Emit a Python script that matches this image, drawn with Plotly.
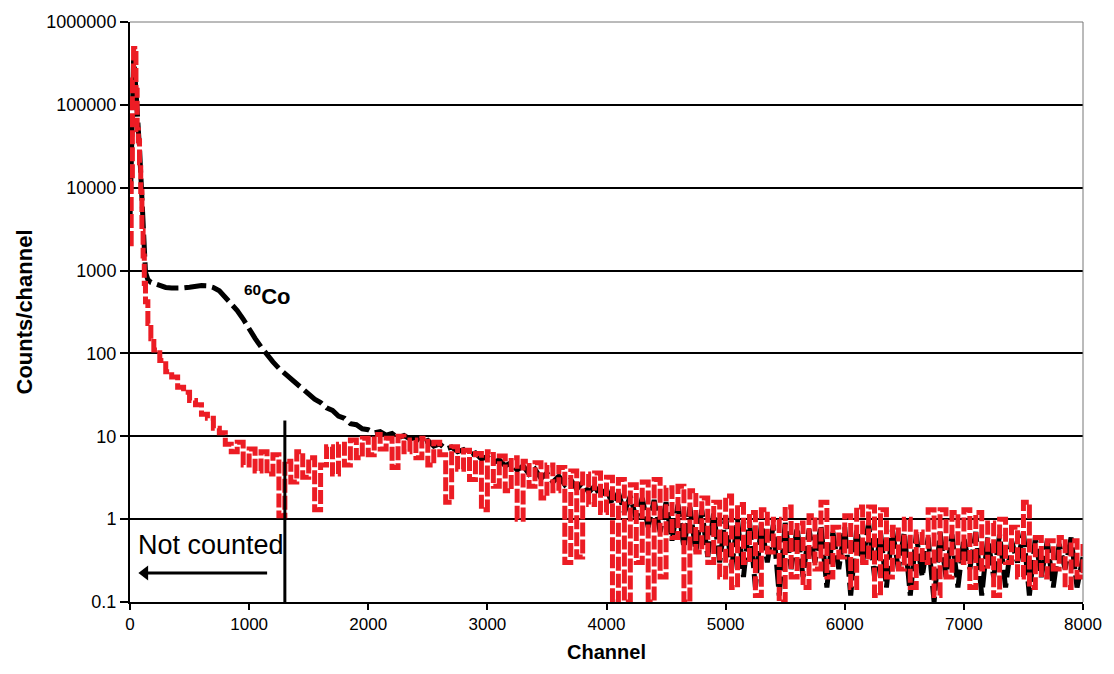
import plotly.graph_objects as go

# ---- data (channel vs counts/channel) ----
low_channels = [0, 10, 20, 30, 40, 50, 60, 70, 80, 90, 100, 110, 120, 130, 150, 175]
co60_low = [4000, 20000, 150000, 350000, 250000, 110000, 90000, 50000, 30000, 15000,
            5500, 2200, 1200, 950, 780, 720]
bg_low = [2100, 12000, 200000, 480000, 450000, 150000, 50000, 37000, 20000, 9000,
          3000, 1500, 700, 420, 230, 150]

main_channels = list(range(200, 8001, 50))
co60_main = [
    700, 650, 625, 615, 610, 618, 628, 645, 660, 655, 625, 570,
    480, 400, 330, 260, 195, 152, 120, 96,
    79, 66, 57, 49, 42, 36, 31.5, 28,
    25.5, 22, 20.5, 17.5, 16.5, 14.2, 13.8, 12.3,
    12, 11, 11.4, 10.3, 10.8, 9.6, 10.2, 9.3,
    9.6, 8.4, 8.9, 7.6, 8.1, 7, 7.4, 6.5,
    6.9, 5.9, 6.3, 5.3, 5.7, 4.8, 5.2, 4.4,
    4.8, 3.9, 4.4, 3.5, 4, 3.1, 3.6, 2.8,
    3.3, 2.6, 3, 2.3, 2.8, 2.1, 2.5, 1.9,
    2.3, 1.5, 2.1, 1.2, 1.9, 1.0, 1.8, 0.8,
    1.7, 0.7, 1.6, 0.55, 1.5, 0.45, 1.4, 0.4,
    1.3, 0.35, 1.2, 0.3, 1.1, 0.25, 1.0, 0.2,
    0.95, 0.15, 0.9, 0.3, 0.85, 0.12, 0.9, 0.25,
    0.8, 0.2, 0.75, 0.3, 0.85, 0.15, 0.7, 0.25,
    0.8, 0.12, 0.75, 0.3, 0.9, 0.2, 0.7, 0.15,
    0.75, 0.25, 0.7, 0.12, 0.65, 0.2, 0.6, 0.1,
    0.7, 0.2, 0.65, 0.15, 0.6, 0.25, 0.7, 0.12,
    0.6, 0.2, 0.65, 0.15, 0.55, 0.3, 0.7, 0.12,
    0.6, 0.2, 0.55, 0.15, 0.5, 0.25, 0.6, 0.15,
    0.35,
]
bg_main = [
    110, 82, 60, 52, 39, 34, 27, 24, 18.5, 16.5, 12.5, 11,
    8, 6.5, 8.5, 4.5, 7, 3.8, 6.5, 3.5,
    6, 1.1, 5, 2.8, 6.5, 3.2, 5.5, 1.3,
    4.5, 7.5, 3.5, 8, 4.5, 9, 5.5, 9.5,
    6, 10.5, 7, 9.5, 4.2, 10, 6.5, 9,
    5.5, 9.5, 4.5, 8.5, 6, 1.6, 7.5, 4,
    6.8, 3, 6.2, 1.3, 6.5, 2.5, 5.8, 2.2,
    5.5, 1, 5, 2.5, 4.8, 1.8, 4.5, 2.2,
    4.2, 0.3, 3.8, 0.35, 3.5, 1.5, 3.6, 1.2,
    3.2, 0.1, 3, 0.1, 2.6, 0.3, 2.8, 0.1,
    3, 0.2, 2.4, 0.6, 2.5, 0.1, 2.2, 0.4,
    1.8, 0.3, 1.6, 0.2, 1.9, 0.15, 1.5, 0.3,
    1.2, 0.12, 1.3, 0.4, 1.0, 0.1, 1.4, 0.2,
    0.9, 0.15, 1.1, 0.25, 1.6, 0.2, 0.8, 0.35,
    1.1, 0.15, 1.4, 0.3, 1.4, 0.12, 1.3, 0.2,
    0.8, 0.25, 1.0, 0.15, 0.7, 0.3, 1.3, 0.12,
    1.3, 0.2, 1.2, 0.3, 1.3, 0.15, 1.2, 0.25,
    0.9, 0.12, 1.0, 0.3, 0.8, 0.2, 1.6, 0.15,
    0.6, 0.2, 0.55, 0.25, 0.6, 0.15, 0.55, 0.2,
    0.5,
]

channels = low_channels + main_channels
co60_counts = co60_low + co60_main
bg_counts = bg_low + bg_main

cut_channel = [1300, 1300]
cut_counts = [15.5, 0.1]

arrow_channel = [1151, 150]
arrow_counts = [0.224, 0.224]
arrow_head_channel = [125]
arrow_head_counts = [0.224]

x_ticks = [0, 1000, 2000, 3000, 4000, 5000, 6000, 7000, 8000]
y_ticks = [0.1, 1, 10, 100, 1000, 10000, 100000, 1000000]
y_ticktext = ["0.1", "1", "10", "100", "1000", "10000", "100000", "1000000"]

FONT = "Liberation Sans, Arial, sans-serif"

fig = go.Figure()
fig.add_trace(go.Scatter(x=channels, y=co60_counts, mode="lines",
                         line=dict(color="black", width=5, dash="22px,6px"),
                         hoverinfo="skip"))
fig.add_trace(go.Scatter(x=channels, y=bg_counts, mode="lines",
                         line=dict(color="#ec1c24", width=5, dash="14px,3px", shape="hv"),
                         hoverinfo="skip"))
fig.add_trace(go.Scatter(x=cut_channel, y=cut_counts, mode="lines",
                         line=dict(color="black", width=3), hoverinfo="skip"))
fig.add_trace(go.Scatter(x=arrow_channel, y=arrow_counts, mode="lines",
                         line=dict(color="black", width=3), hoverinfo="skip"))
fig.add_trace(go.Scatter(x=arrow_head_channel, y=arrow_head_counts, mode="markers",
                         marker=dict(symbol="triangle-left", size=13, color="black",
                                     line=dict(width=0)),
                         hoverinfo="skip"))

fig.update_layout(
    width=1114, height=674,
    margin=dict(l=130, r=24, t=20, b=72),
    plot_bgcolor="white", paper_bgcolor="white",
    showlegend=False,
    font=dict(family=FONT, color="black"),
    xaxis=dict(range=[0, 8000], tickvals=x_ticks, ticks="outside", ticklen=6,
               tickwidth=1.5, tickcolor="black", showline=True, linecolor="black",
               linewidth=2, showgrid=False, zeroline=False,
               tickfont=dict(size=17, family=FONT),
               title=dict(text="<b>Channel</b>", font=dict(size=20, family=FONT), standoff=12)),
    yaxis=dict(type="log", range=[-1, 6], tickvals=y_ticks, ticktext=y_ticktext,
               ticks="outside", ticklen=8, tickwidth=1.5, tickcolor="black",
               showline=True, linecolor="black", linewidth=2,
               showgrid=True, gridcolor="black", gridwidth=1.5, zeroline=False,
               tickfont=dict(size=18, family=FONT),
               title=dict(text="<b>Counts/channel</b>", font=dict(size=22, family=FONT), standoff=8)),
    shapes=[
        dict(type="line", xref="paper", yref="paper", x0=0, x1=1, y0=1, y1=1,
             line=dict(color="#777", width=1)),
        dict(type="line", xref="paper", yref="paper", x0=1, x1=1, y0=0, y1=1,
             line=dict(color="#777", width=1)),
    ],
    annotations=[
        dict(x=1151, y=2.70, xref="x", yref="y", text="<b><sup>60</sup>Co</b>",
             showarrow=False, font=dict(size=22, family=FONT)),
        dict(x=676, y=-0.313, xref="x", yref="y", text="Not counted",
             showarrow=False, font=dict(size=27, family=FONT)),
    ],
)

fig.write_html("out.html")
